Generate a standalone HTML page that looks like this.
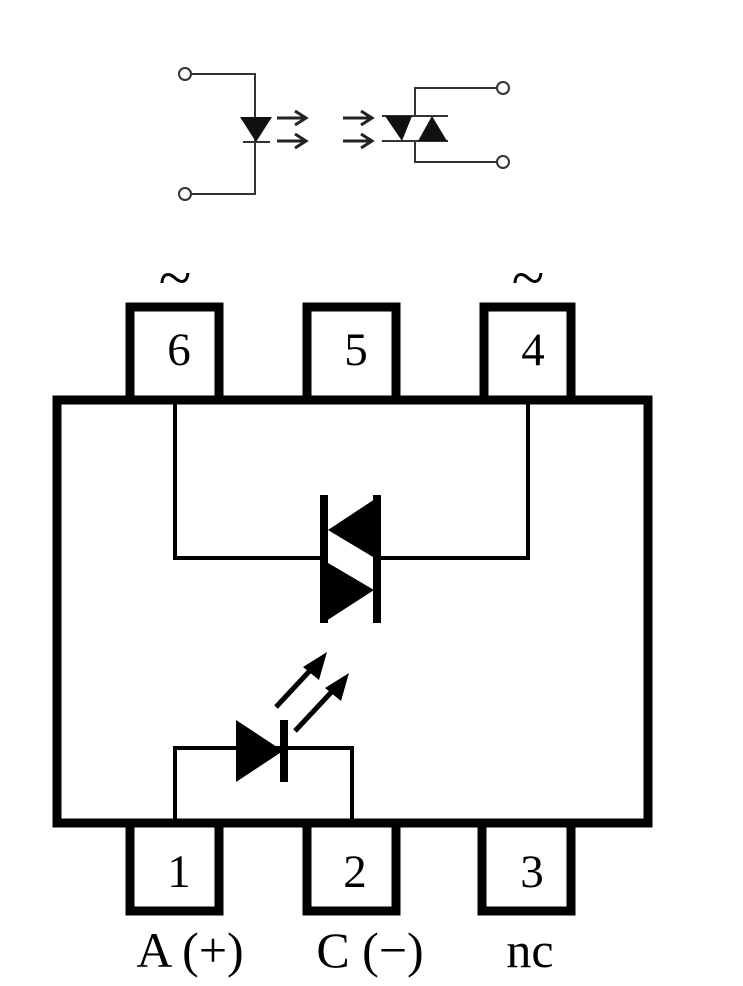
<!DOCTYPE html>
<html><head><meta charset="utf-8"><style>
html,body{margin:0;padding:0;background:#fff;}
svg{display:block;}
text{font-family:"Liberation Serif",serif;fill:#000;}
</style></head><body>
<svg width="743" height="986" viewBox="0 0 743 986" xmlns="http://www.w3.org/2000/svg">
<!-- top symbol -->
<g stroke="#333" stroke-width="2" fill="none">
<circle cx="185" cy="74" r="6"/>
<circle cx="185" cy="194" r="6"/>
<circle cx="503" cy="88" r="6"/>
<circle cx="503" cy="162" r="6"/>
<polyline points="191,74 255,74 255,194 191,194"/>
<line x1="243" y1="142" x2="270" y2="142"/>
<polyline points="497,88 415,88 415,116"/>
<polyline points="497,162 415,162 415,141"/>
<line x1="382" y1="116" x2="448" y2="116"/>
<line x1="382" y1="141" x2="448" y2="141"/>
</g>
<g stroke="#222" stroke-width="3" fill="none">
<line x1="277" y1="118" x2="305" y2="118"/>
<line x1="277" y1="141" x2="305" y2="141"/>
<line x1="343" y1="118" x2="371" y2="118"/>
<line x1="343" y1="141" x2="371" y2="141"/>
<polyline points="295,111 306,118 295,125"/>
<polyline points="295,134 306,141 295,148"/>
<polyline points="361,111 372,118 361,125"/>
<polyline points="361,134 372,141 361,148"/>
</g>
<g fill="#111">
<polygon points="240,117 272,117 256,142"/>
<polygon points="385,116 412,116 402,141"/>
<polygon points="418,141 447,141 432,116"/>
</g>
<!-- package -->
<g stroke="#000" stroke-width="9" fill="none">
<rect x="57" y="400" width="591" height="423"/>
<polyline points="130,400 130,307 219,307 219,400"/>
<polyline points="307,400 307,307 396,307 396,400"/>
<polyline points="484,400 484,307 571,307 571,400"/>
<polyline points="130,823 130,911 219,911 219,823"/>
<polyline points="307,823 307,911 396,911 396,823"/>
<polyline points="482,823 482,911 571,911 571,823"/>
</g>
<g stroke="#000" stroke-width="4" fill="none">
<polyline points="175,400 175,558 323,558"/>
<polyline points="528,400 528,558 378,558"/>
<polyline points="175,823 175,748 352,748 352,823"/>
</g>
<g fill="#000">
<rect x="320" y="495" width="8" height="128"/>
<rect x="373" y="495" width="8" height="128"/>
<polygon points="378,497 378,560 328,530"/>
<polygon points="323,560 323,623 374,590"/>
<polygon points="236,720 236,782 283,751"/>
<rect x="280" y="720" width="8" height="62"/>
</g>
<g stroke="#000" stroke-width="5">
<line x1="276" y1="707" x2="318" y2="662"/>
<line x1="295" y1="731" x2="339" y2="684"/>
</g>
<g fill="#000">
<polygon points="327,652 303,667 319,680"/>
<polygon points="349,673 325,688 341,701"/>
</g>
<g font-size="47" text-anchor="middle">
<text x="179" y="365">6</text>
<text x="356" y="365">5</text>
<text x="533" y="365">4</text>
<text x="179" y="887">1</text>
<text x="355" y="887">2</text>
<text x="532" y="887">3</text>
</g>
<g font-size="60" text-anchor="middle">
<text x="175" y="298">~</text>
<text x="528" y="298">~</text>
</g>
<g font-size="50" text-anchor="middle">
<text x="190" y="967">A (+)</text>
<text x="370" y="967">C (−)</text>
<text x="530" y="967">nc</text>
</g>
</svg>
</body></html>
